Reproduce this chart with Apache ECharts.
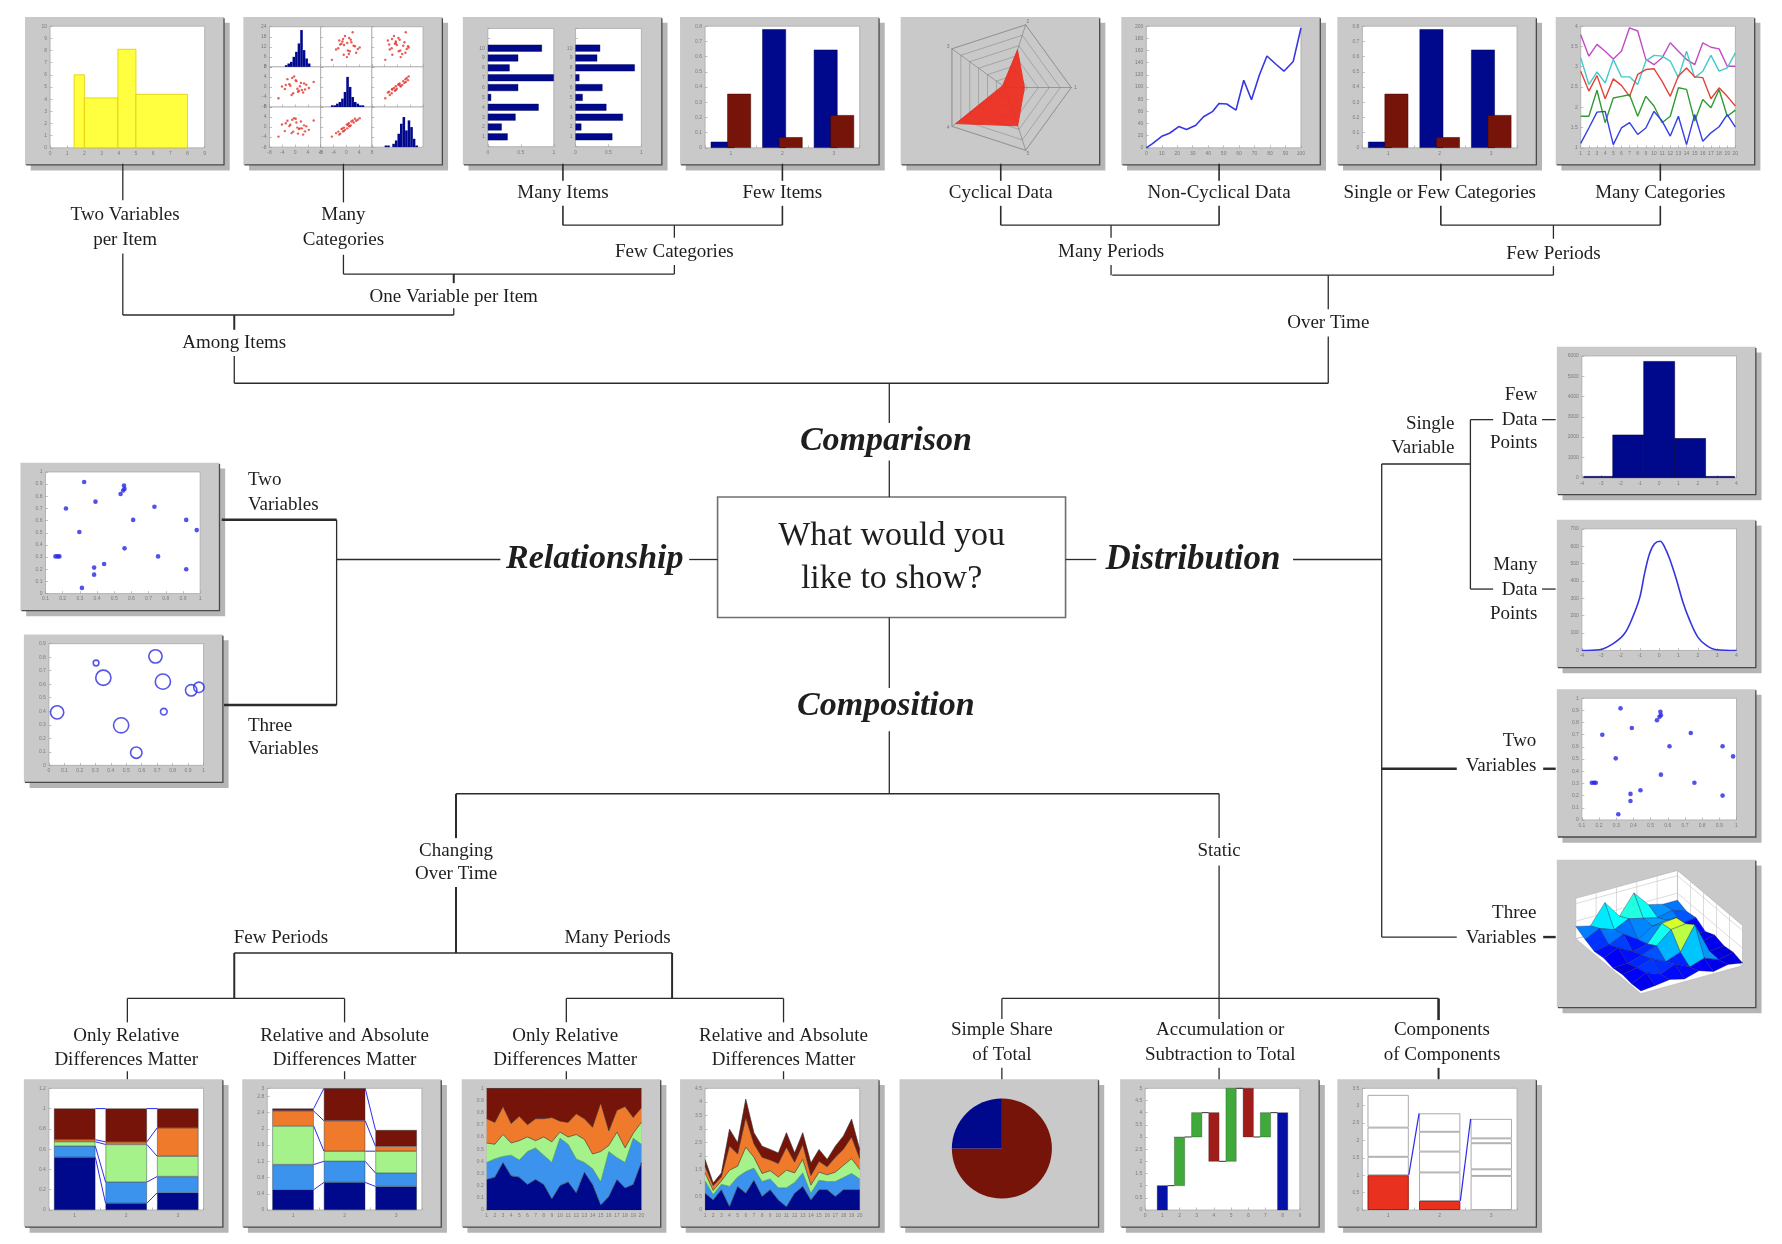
<!DOCTYPE html>
<html>
<head>
<meta charset="utf-8">
<script src="https://cdn.jsdelivr.net/npm/echarts/dist/echarts.min.js"></script>
<style>
  html, body { margin: 0; padding: 0; background: #fff; }
  #main { width: 1782px; height: 1244px; }
</style>
</head>
<body>
<div id="main"></div>
<script>
// ---------- data ----------
// Comparison / among items
var varWidthLeft = [1.4, 2.0, 3.95, 5.0];
var varWidthRight = [2.0, 3.95, 5.0, 8.0];
var varWidthHeight = [6.0, 4.1, 8.1, 4.4];

var matrixVarA = [-1.5, 2.1, 0.4, -3.2, 1.8, -0.6, 3.5, -2.4, 0.9, -4.1, 2.8, -1.1, 0.2, 4.3, -2.9, 1.2, -0.3, 2.5, -1.8, 0.7, 5.8, -5.2, 1.5, -0.9, 3.1];
var matrixVarB = [0.5, -1.2, 2.3, -0.8, 1.6, -2.5, 0.9, 3.1, -1.9, 0.2, 1.4, -3.2, 2.7, -0.4, 0.8, -1.5, 4.2, -2.2, 1.1, -0.7, 2.0, -4.5, 0.3, 3.6, -1.0];
var matrixVarC = [0.9, -0.5, 1.8, -1.6, 2.2, -1.8, 0.3, 2.5, -2.6, 1.0, 0.7, -2.4, 3.3, -1.1, 1.5, -0.8, 3.5, -3.0, 0.4, -0.2, 2.6, -3.8, -0.5, 2.9, -1.7];
var histBins = ['1','2','3','4','5','6','7','8','9','10','11','12','13','14','15','16','17','18','19','20'];
var matrixHistA = [0, 0, 0, 0, 0, 0, 1, 2, 3, 6, 9, 14, 22, 10, 5, 2, 0, 0, 0, 0];
var matrixHistB = [0, 0, 0, 0, 1, 1, 2, 3, 5, 9, 18, 12, 6, 3, 2, 1, 1, 0, 0, 0];
var matrixHistC = [0, 0, 0, 0, 0, 1, 1, 0, 2, 4, 8, 14, 18, 10, 16, 12, 5, 1, 0, 0];

var itemTicks = ['', '1', '2', '3', '4', '5', '6', '7', '8', '9', '10', '', ''];
var manyItemsLeft = [0.30, 0.21, 0.42, 0.77, 0.05, 0.46, 1.0, 0.33, 0.46, 0.82];
var manyItemsRight = [0.56, 0.09, 0.72, 0.47, 0.11, 0.41, 0.06, 0.9, 0.33, 0.375];

var fewCats = ['1', '2', '3'];
var fewBlue = [0.04, 0.78, 0.645];
var fewRed = [0.355, 0.07, 0.215];

// Comparison / over time
var radarAxes = ['1', '2', '3', '4', '5'];
var radarValues = [0.29, 0.6, 0.05, 0.93, 0.61];

var trendX = [0, 4, 10, 15, 21, 26, 32, 37, 43, 47, 52, 58, 63, 68, 73, 78, 84, 89, 95, 100];
var trendY = [0, 7, 19, 24, 35, 30, 37, 51, 60, 73, 72, 62, 111, 79, 119, 151, 137, 126, 142, 197];

var periodTicks = ['1','2','3','4','5','6','7','8','9','10','11','12','13','14','15','16','17','18','19','20'];
var linesMagenta = [3.79, 3.26, 3.55, 3.38, 3.19, 3.38, 3.96, 3.88, 3.18, 3.05, 3.22, 3.59, 3.38, 3.18, 3.05, 3.59, 3.48, 3.44, 3.01, 3.01];
var linesCyan = [3.22, 2.56, 2.87, 2.60, 3.18, 2.75, 2.75, 2.56, 3.14, 3.28, 3.26, 3.14, 2.73, 3.38, 2.73, 2.89, 3.28, 2.89, 2.97, 3.34];
var linesRed = [2.89, 2.40, 2.78, 2.21, 2.70, 2.54, 2.27, 2.81, 2.93, 2.95, 2.64, 2.27, 2.77, 2.97, 2.75, 2.73, 2.21, 2.48, 2.27, 2.03];
var linesGreen = [1.78, 1.78, 2.42, 1.62, 2.23, 2.27, 2.31, 1.78, 2.27, 2.03, 1.62, 1.78, 2.48, 2.44, 1.66, 2.19, 1.99, 2.44, 1.78, 1.93];
var linesBlue = [1.11, 1.49, 1.88, 1.90, 1.08, 1.49, 1.62, 1.33, 1.49, 1.90, 1.66, 1.29, 1.78, 1.08, 1.82, 1.16, 1.37, 1.52, 1.82, 1.51];

// Relationship
var scatterX = [0.325, 0.557, 0.56, 0.552, 0.537, 0.391, 0.219, 0.734, 0.61, 0.919, 0.98, 0.297, 0.56, 0.158, 0.171, 0.181, 0.755, 0.383, 0.441, 0.383, 0.919, 0.312];
var scatterY = [0.917, 0.889, 0.861, 0.847, 0.819, 0.756, 0.70, 0.714, 0.606, 0.606, 0.522, 0.506, 0.372, 0.306, 0.306, 0.306, 0.306, 0.214, 0.244, 0.156, 0.2, 0.047];
var bubbleX = [0.305, 0.352, 0.689, 0.737, 0.92, 0.97, 0.053, 0.743, 0.467, 0.565];
var bubbleY = [0.757, 0.648, 0.806, 0.619, 0.555, 0.577, 0.392, 0.397, 0.296, 0.094];
var bubbleSize = [3, 8, 7, 8, 6, 5.5, 7, 3.5, 8, 6];

// Distribution
var binEdges = [-3.9, -2.4, -0.8, 0.8, 2.4, 3.9];
var binCounts = [30, 2070, 5700, 1900, 30];
var densX = [-4, -3.1, -2.4, -1.8, -1.37, -1.0, -0.76, -0.5, -0.24, 0.05, 0.28, 0.54, 0.88, 1.23, 1.58, 2.0, 2.44, 2.96, 4];
var densY = [0, 4, 38, 96, 192, 307, 441, 557, 614, 628, 595, 528, 413, 278, 173, 77, 29, 4, 0];
var surfaceZ = [
  [0.8, 1.2, 1.8, 0.8, 2.0, 0.6, 1.5, 0.8],
  [0.6, 2.6, 1.0, 2.8, 0.8, 2.2, 0.6, 1.6],
  [1.0, 1.8, 3.2, 1.2, 2.8, 9.5, 0.8, 1.2],
  [0.6, 0.8, 2.0, 3.5, 7.0, 7.5, 1.0, 2.0],
  [1.2, 3.0, 0.8, 1.8, 6.5, 7.0, 1.0, 0.8],
  [0.8, 1.6, 3.5, 0.8, 3.5, 4.0, 2.0, 2.5],
  [2.0, 4.0, 2.5, 4.5, 3.5, 2.5, 3.5, 2.0],
  [3.5, 2.5, 8.0, 3.0, 8.5, 4.0, 3.0, 3.0]
];

// Composition
var b1Navy = [0.52, 0.066, 0.17];
var b1Blue = [0.11, 0.209, 0.16];
var b1Green = [0.043, 0.371, 0.20];
var b1Orange = [0.02, 0.026, 0.28];
var b1Red = [0.307, 0.328, 0.19];

var b2Navy = [0.5, 0.68, 0.58];
var b2Blue = [0.62, 0.52, 0.33];
var b2Green = [0.95, 0.25, 0.54];
var b2Orange = [0.37, 0.75, 0.12];
var b2Red = [0.06, 0.8, 0.4];

var b3Navy = [0.25, 0.27, 0.39, 0.28, 0.27, 0.21, 0.25, 0.21, 0.09, 0.20, 0.23, 0.14, 0.31, 0.21, 0.04, 0.11, 0.25, 0.18, 0.21, 0.39];
var b3Blue = [0.14, 0.15, 0.05, 0.17, 0.14, 0.27, 0.26, 0.24, 0.30, 0.39, 0.31, 0.28, 0.08, 0.13, 0.19, 0.37, 0.18, 0.21, 0.38, 0.15];
var b3Green = [0.16, 0.12, 0.18, 0.10, 0.16, 0.12, 0.06, 0.15, 0.17, 0.05, 0.06, 0.20, 0.19, 0.12, 0.25, 0.05, 0.21, 0.12, 0.04, 0.18];
var b3Orange = [0.20, 0.18, 0.23, 0.16, 0.20, 0.10, 0.18, 0.15, 0.20, 0.09, 0.12, 0.17, 0.17, 0.22, 0.40, 0.12, 0.18, 0.34, 0.13, 0.12];
var b3Red = [0.25, 0.28, 0.15, 0.29, 0.23, 0.30, 0.25, 0.25, 0.24, 0.27, 0.28, 0.21, 0.25, 0.32, 0.12, 0.35, 0.18, 0.15, 0.24, 0.16];

var b4Navy = [0.62, 0.37, 0.75, 0.12, 0.87, 0.62, 1.1, 0.5, 0.75, 0.37, 0.12, 0.62, 0.87, 0.37, 0.75, 0.75, 0.5, 0.75, 0.75, 0.75];
var b4Blue = [0.45, 0.2, 0.2, 0.75, 0.35, 0.8, 0.45, 0.55, 0.4, 0.45, 0.7, 0.4, 0.5, 0.25, 0.35, 0.3, 0.55, 0.45, 0.6, 0.4];
var b4Green = [0.3, 0.15, 0.12, 0.6, 0.4, 0.9, 0.4, 0.3, 0.3, 0.4, 0.65, 0.35, 0.5, 0.3, 0.3, 0.25, 0.35, 0.45, 0.55, 0.35];
var b4Orange = [0.25, 0.18, 0.15, 0.9, 0.45, 1.1, 0.5, 0.6, 0.4, 0.5, 0.85, 0.4, 0.55, 0.35, 0.4, 0.3, 0.55, 0.6, 0.8, 0.4];
var b4Red = [0.25, 0.1, 0.15, 0.62, 0.42, 0.68, 0.41, 0.41, 0.39, 0.39, 0.54, 0.34, 0.44, 0.47, 0.44, 0.27, 0.41, 0.49, 0.66, 0.34];

var pieNames = ['Rest', 'Share'];
var pieShares = [75, 25];

var wfFrom = [0, 1, 3, 4, 2, 5, 3, 4];
var wfTo = [1, 3, 4, 2, 5, 3, 4, 0];
var wfKind = ['total', 'up', 'up', 'down', 'up', 'down', 'up', 'total'];

var compSeg1 = [1.0, 0.26, 0.98];
var compSeg2 = [0.53, 0.82, 0.19];
var compSeg3 = [0.84, 0.60, 0.75];
var compSeg4 = [0.94, 0.57, 0.14];
var compSeg5 = [null, 0.53, 0.56];
var compFocus = [1, 1, 0];

// ---------- layout helpers ----------
var K = 1782 / 1567;
function k(v) { return v * K; }
var SERIF = '"Liberation Serif", "DejaVu Serif", serif';
var NAVY = '#00088c', LBLUE = '#3b93ee', LGREEN = '#a6f28a', ORANGE = '#ef7a2c', DRED = '#771409';

var graphics = [], grids = [], xAxes = [], yAxes = [], series = [], radars = [];

function addLine(x1, y1, x2, y2, w) {
  graphics.push({ type: 'line', z: 5, silent: true,
    shape: { x1: k(x1), y1: k(y1), x2: k(x2), y2: k(y2) },
    style: { stroke: '#2b2b2b', lineWidth: w || 1.3 } });
}
function addText(x, y, text, font, align) {
  graphics.push({ type: 'text', z: 5, silent: true, x: k(x), y: k(y),
    style: { text: text, fill: '#1e1e1e', font: font || ('19px ' + SERIF),
      align: align || 'center', verticalAlign: 'middle' } });
}
function addBox(b) {
  graphics.push({ type: 'rect', z: -3, silent: true,
    shape: { x: k(b[0] + 5), y: k(b[1] + 5), width: k(175), height: k(130) }, style: { fill: '#b5b5b5' } });
  graphics.push({ type: 'rect', z: -2, silent: true,
    shape: { x: k(b[0]), y: k(b[1]), width: k(175), height: k(130) }, style: { fill: '#c9c9c9' } });
  graphics.push({ type: 'polyline', z: -1, silent: true,
    shape: { points: [[k(b[0] + 175), k(b[1] + 1)], [k(b[0] + 175), k(b[1] + 130)], [k(b[0] + 1), k(b[1] + 130)]] },
    style: { stroke: '#4a4a4a', lineWidth: 1.3, fill: null } });
}
function axisBase(extra) {
  var a = {
    axisLine: { show: false, onZero: false },
    axisTick: { show: true, inside: true, length: 2.5, lineStyle: { color: '#999', width: 0.6 } },
    axisLabel: { show: true, fontSize: 5, color: '#7c7c7c', margin: 3, fontFamily: 'Liberation Sans',
      formatter: function (v) { return String(v); } },
    splitLine: { show: false }
  };
  for (var key in extra) a[key] = extra[key];
  return a;
}
function tiny(show) {
  return { show: show, fontSize: 5, color: '#7c7c7c', margin: 3, formatter: function (v) { return String(v); } };
}
function addGrid(r, xa, ya, bare) {
  var i = grids.length;
  grids.push({ left: k(r[0]), top: k(r[1]), width: k(r[2]), height: k(r[3]),
    containLabel: false, outerBoundsMode: 'none', show: !bare,
    backgroundColor: '#fff', borderColor: '#a8a8a8', borderWidth: 0.8 });
  xa.gridIndex = i; ya.gridIndex = i;
  xAxes.push(axisBase(xa)); yAxes.push(axisBase(ya));
  return i;
}
function plotIn(b) { return [b[0] + 22, b[1] + 8, 136, 107]; }

var topBoxes = [[22, 15], [214, 15], [407, 15], [598, 15], [792, 15], [986, 15], [1176, 15], [1368, 15]];
var leftBoxes = [[18, 407], [21, 558]];
var rightBoxes = [[1369, 305], [1369, 457], [1369, 606], [1369, 756]];
var bottomBoxes = [[21, 949], [213, 949], [406, 949], [598, 949], [791, 949], [985, 949], [1176, 949]];
topBoxes.concat(leftBoxes, rightBoxes, bottomBoxes).forEach(addBox);

// ---------- top row ----------
var g, b;
// variable width columns
g = addGrid(plotIn(topBoxes[0]), { type: 'value', min: 0, max: 9, interval: 1 }, { type: 'value', min: 0, max: 10, interval: 1 });
series.push({ type: 'custom', xAxisIndex: g, yAxisIndex: g, silent: true, encode: { x: [0, 2], y: 1 },
  data: varWidthLeft.map(function (l, i) { return [l, varWidthHeight[i], varWidthRight[i]]; }),
  renderItem: function (p, api) {
    var a = api.coord([api.value(0), 0]), c = api.coord([api.value(2), api.value(1)]);
    return { type: 'rect', shape: { x: a[0], y: c[1], width: c[0] - a[0], height: a[1] - c[1] },
      style: { fill: '#ffff40', stroke: '#e0cc00', lineWidth: 0.8 } };
  } });

// scatter matrix
b = topBoxes[1];
var mVars = [matrixVarA, matrixVarB, matrixVarC];
var mHists = [matrixHistA, matrixHistB, matrixHistC];
var mx = b[0] + 23, my = b[1] + 8.5, mw = 45, mh = 35.3;
for (var rr = 0; rr < 3; rr++) {
  for (var cc = 0; cc < 3; cc++) {
    var cell = [mx + cc * mw, my + rr * mh, mw, mh];
    if (rr === cc) {
      g = addGrid(cell, { type: 'category', data: histBins, axisTick: { show: false }, axisLabel: { show: false } },
        { type: 'value', min: 0, max: 24, interval: 6, axisLabel: tiny(cc === 0) });
      series.push({ type: 'bar', xAxisIndex: g, yAxisIndex: g, silent: true, data: mHists[rr], barCategoryGap: 0, itemStyle: { color: NAVY } });
    } else {
      g = addGrid(cell,
        { type: 'value', min: -8, max: 8, interval: 4, axisLabel: tiny(rr === 2) },
        { type: 'value', min: -8, max: 8, interval: 4, axisLabel: tiny(cc === 0) });
      var xs = mVars[cc], ys = mVars[rr];
      series.push({ type: 'scatter', xAxisIndex: g, yAxisIndex: g, silent: true, symbolSize: 2.4,
        itemStyle: { color: '#e2342c' }, data: xs.map(function (v, i) { return [v, ys[i]]; }) });
    }
  }
}

// many items
b = topBoxes[2];
[[manyItemsLeft, 22], [manyItemsRight, 99]].forEach(function (p) {
  var gi = addGrid([b[0] + p[1], b[1] + 10, 58, 104], { type: 'value', min: 0, max: 1, interval: 0.5 },
    { type: 'category', data: itemTicks, boundaryGap: false });
  series.push({ type: 'bar', xAxisIndex: gi, yAxisIndex: gi, silent: true, barWidth: '70%',
    data: [null].concat(p[0], [null, null]), itemStyle: { color: NAVY, borderColor: '#000055', borderWidth: 0.4 } });
});

// few items / single or few categories
[topBoxes[3], topBoxes[6]].forEach(function (bx) {
  var gi = addGrid(plotIn(bx), { type: 'category', data: fewCats }, { type: 'value', min: 0, max: 0.8, interval: 0.1 });
  series.push({ type: 'bar', xAxisIndex: gi, yAxisIndex: gi, silent: true, data: fewBlue, barGap: '-30%', barCategoryGap: '22%',
    itemStyle: { color: NAVY, borderColor: '#000050', borderWidth: 0.5 } });
  series.push({ type: 'bar', xAxisIndex: gi, yAxisIndex: gi, silent: true, data: fewRed, barGap: '-30%', barCategoryGap: '22%',
    itemStyle: { color: DRED, borderColor: '#400500', borderWidth: 0.5 } });
});

// radar
b = topBoxes[4];
radars.push({ center: [k(b[0] + 92), k(b[1] + 62)], radius: k(58), startAngle: 0, shape: 'polygon', splitNumber: 6,
  indicator: radarAxes.map(function (n) { return { name: n, max: 1 }; }),
  axisName: { color: '#7a7a7a', fontSize: 5 }, nameGap: 3,
  axisLine: { lineStyle: { color: '#777', width: 0.6 } },
  splitLine: { lineStyle: { color: '#8c8c8c', width: 0.6 } }, splitArea: { show: false } });
series.push({ type: 'radar', radarIndex: 0, silent: true, symbol: 'none', data: [{ value: radarValues }],
  lineStyle: { color: '#d8281a', width: 0.8 }, areaStyle: { color: '#ee2b1c', opacity: 0.92 } });

// non-cyclical line
g = addGrid(plotIn(topBoxes[5]), { type: 'value', min: 0, max: 100, interval: 10 }, { type: 'value', min: 0, max: 200, interval: 20 });
series.push({ type: 'line', xAxisIndex: g, yAxisIndex: g, silent: true, symbol: 'none',
  data: trendX.map(function (x, i) { return [x, trendY[i]]; }), lineStyle: { color: '#3636e4', width: 1.6 } });

// many categories
g = addGrid(plotIn(topBoxes[7]), { type: 'category', data: periodTicks, boundaryGap: false }, { type: 'value', min: 1, max: 4, interval: 0.5 });
[[linesMagenta, '#c24ac6'], [linesCyan, '#45c9c9'], [linesRed, '#e2433a'], [linesGreen, '#2f9c32'], [linesBlue, '#3440e4']].forEach(function (s) {
  series.push({ type: 'line', xAxisIndex: g, yAxisIndex: g, silent: true, symbol: 'none', data: s[0], lineStyle: { color: s[1], width: 1.4 } });
});

// ---------- relationship ----------
function scatterChart(bx) {
  var gi = addGrid(plotIn(bx), { type: 'value', min: 0.1, max: 1, interval: 0.1 }, { type: 'value', min: 0, max: 1, interval: 0.1 });
  series.push({ type: 'scatter', xAxisIndex: gi, yAxisIndex: gi, silent: true, symbolSize: 4.6, itemStyle: { color: '#2727e4' },
    data: scatterX.map(function (x, i) { return [x, scatterY[i]]; }) });
}
scatterChart(leftBoxes[0]);
g = addGrid(plotIn(leftBoxes[1]), { type: 'value', min: 0, max: 1, interval: 0.1 }, { type: 'value', min: 0, max: 0.9, interval: 0.1 });
series.push({ type: 'scatter', xAxisIndex: g, yAxisIndex: g, silent: true,
  data: bubbleX.map(function (x, i) { return [x, bubbleY[i], bubbleSize[i]]; }),
  symbolSize: function (v) { return v[2] * 1.9; },
  itemStyle: { color: 'rgba(0,0,0,0)', borderColor: '#2b2be2', borderWidth: 1.6 } });

// ---------- distribution ----------
g = addGrid(plotIn(rightBoxes[0]), { type: 'value', min: -4, max: 4, interval: 1 }, { type: 'value', min: 0, max: 6000, interval: 1000 });
series.push({ type: 'custom', xAxisIndex: g, yAxisIndex: g, silent: true, encode: { x: [0, 1], y: 2 },
  data: binCounts.map(function (c, i) { return [binEdges[i], binEdges[i + 1], c]; }),
  renderItem: function (p, api) {
    var a = api.coord([api.value(0), 0]), c = api.coord([api.value(1), api.value(2)]);
    return { type: 'rect', shape: { x: a[0], y: c[1] - 0.6, width: c[0] - a[0], height: a[1] - c[1] + 0.6 },
      style: { fill: NAVY, stroke: '#000048', lineWidth: 0.6 } };
  } });

g = addGrid(plotIn(rightBoxes[1]), { type: 'value', min: -4, max: 4, interval: 1 }, { type: 'value', min: 0, max: 700, interval: 100 });
series.push({ type: 'line', xAxisIndex: g, yAxisIndex: g, silent: true, symbol: 'none', smooth: 0.35,
  data: densX.map(function (x, i) { return [x, densY[i]]; }), lineStyle: { color: '#3434e2', width: 1.6 } });

scatterChart(rightBoxes[2]);

// 3D surface, oblique projection into box-relative units
var b3d = rightBoxes[3];
g = addGrid([b3d[0], b3d[1], 175, 130], { type: 'value', min: 0, max: 175, show: false },
  { type: 'value', min: 0, max: 130, inverse: true, show: false }, true);
function proj(i, j, z) { return [73.9 + i * 8.94 - j * 5.72, 117.8 - i * 2.46 - j * 4.84 - z * 3.08]; }
var JET = [[0, [0, 0, 143]], [0.125, [0, 0, 255]], [0.375, [0, 255, 255]], [0.625, [255, 255, 0]], [0.875, [255, 0, 0]], [1, [128, 0, 0]]];
function jet(t) {
  t = Math.max(0, Math.min(1, t));
  for (var n = 1; n < JET.length; n++) {
    if (t <= JET[n][0]) {
      var a = JET[n - 1], c = JET[n], f = (t - a[0]) / (c[0] - a[0]);
      return 'rgb(' + [0, 1, 2].map(function (q) { return Math.round(a[1][q] + (c[1][q] - a[1][q]) * f); }).join(',') + ')';
    }
  }
  return 'rgb(128,0,0)';
}
series.push({ type: 'custom', xAxisIndex: g, yAxisIndex: g, silent: true, data: [[0, 0]],
  renderItem: function (p, api) {
    function pt(i, j, z) { var q = proj(i, j, z); return api.coord([q[0], q[1]]); }
    function ln(a, c) { return { type: 'line', shape: { x1: a[0], y1: a[1], x2: c[0], y2: c[1] }, style: { stroke: '#c4c4c4', lineWidth: 0.6 } }; }
    var top = 11.5;
    var faces = [
      [[0, 0, 0], [10, 0, 0], [10, 10, 0], [0, 10, 0]],
      [[0, 10, 0], [10, 10, 0], [10, 10, top], [0, 10, top]],
      [[10, 0, 0], [10, 10, 0], [10, 10, top], [10, 0, top]]
    ];
    var ch = faces.map(function (f) {
      return { type: 'polygon', shape: { points: f.map(function (q) { return pt(q[0], q[1], q[2]); }) },
        style: { fill: '#fff', stroke: '#b0b0b0', lineWidth: 0.6 } };
    });
    for (var t = 2; t < 10; t += 2) {
      ch.push(ln(pt(t, 10, 0), pt(t, 10, top)));
      ch.push(ln(pt(10, t, 0), pt(10, t, top)));
    }
    [5, 10].forEach(function (zz) {
      ch.push(ln(pt(0, 10, zz), pt(10, 10, zz)));
      ch.push(ln(pt(10, 10, zz), pt(10, 0, zz)));
    });
    return { type: 'group', children: ch };
  } });
var nz = surfaceZ.length, step = 10 / (nz - 1), cells = [];
for (var cj = 0; cj < nz - 1; cj++) for (var ci = 0; ci < nz - 1; ci++) cells.push([ci, cj]);
cells.sort(function (a, c) { return (2.46 * c[0] + 4.84 * c[1]) - (2.46 * a[0] + 4.84 * a[1]); });
series.push({ type: 'custom', xAxisIndex: g, yAxisIndex: g, silent: true, data: cells,
  renderItem: function (p, api) {
    var i = api.value(0), j = api.value(1);
    var corners = [[i, j], [i + 1, j], [i + 1, j + 1], [i, j + 1]];
    var sum = 0;
    var pts = corners.map(function (q) {
      var z = surfaceZ[q[1]][q[0]]; sum += z;
      var pr = proj(q[0] * step, q[1] * step, z);
      return api.coord([pr[0], pr[1]]);
    });
    return { type: 'polygon', shape: { points: pts }, style: { fill: jet(sum / 4 / 12), stroke: '#1a1a50', lineWidth: 0.35 } };
  } });

// ---------- composition ----------
function connectors(gi, stacks, half) {
  var tops = stacks[0].map(function (_, bi) {
    var s = 0;
    return stacks.map(function (arr) { s += (arr[bi] || 0); return s; });
  });
  var data = [];
  for (var bi = 0; bi < tops.length - 1; bi++) for (var si = 0; si < stacks.length; si++) data.push([bi, tops[bi][si], tops[bi + 1][si]]);
  series.push({ type: 'custom', xAxisIndex: gi, yAxisIndex: gi, silent: true, z: 3, data: data, encode: { x: 0, y: [1, 2] },
    renderItem: function (p, api) {
      var i = api.value(0), band = api.size([1, 0])[0];
      var a = api.coord([i, api.value(1)]), c = api.coord([i + 1, api.value(2)]);
      return { type: 'line', shape: { x1: a[0] + band * half, y1: a[1], x2: c[0] - band * half, y2: c[1] },
        style: { stroke: '#2b2bf0', lineWidth: 1 } };
    } });
}
function stackedBars(bx, stacks, ymax, name) {
  var gi = addGrid(plotIn(bx), { type: 'category', data: fewCats }, { type: 'value', min: 0, max: ymax, interval: 0.2 * Math.ceil(ymax / 1.5) });
  var cols = [NAVY, LBLUE, LGREEN, ORANGE, DRED];
  stacks.forEach(function (arr, si) {
    series.push({ type: 'bar', xAxisIndex: gi, yAxisIndex: gi, silent: true, stack: name, data: arr, barCategoryGap: '20%',
      itemStyle: { color: cols[si], borderColor: '#1c2a3a', borderWidth: 0.4 } });
  });
  connectors(gi, stacks, 0.4);
}
stackedBars(bottomBoxes[0], [b1Navy, b1Blue, b1Green, b1Orange, b1Red], 1.2, 'b1');
stackedBars(bottomBoxes[1], [b2Navy, b2Blue, b2Green, b2Orange, b2Red], 3, 'b2');

function stackedArea(bx, stacks, ymax, iv, name) {
  var gi = addGrid(plotIn(bx), { type: 'category', data: periodTicks, boundaryGap: false }, { type: 'value', min: 0, max: ymax, interval: iv });
  var cols = [NAVY, LBLUE, LGREEN, ORANGE, DRED];
  stacks.forEach(function (arr, si) {
    series.push({ type: 'line', xAxisIndex: gi, yAxisIndex: gi, silent: true, stack: name, symbol: 'none', data: arr,
      lineStyle: { color: si === 1 ? '#2e8a3c' : '#2a2a2a', width: 0.6 }, areaStyle: { color: cols[si], opacity: 1 }, itemStyle: { color: cols[si] } });
  });
}
stackedArea(bottomBoxes[2], [b3Navy, b3Blue, b3Green, b3Orange, b3Red], 1, 0.1, 'b3');
stackedArea(bottomBoxes[3], [b4Navy, b4Blue, b4Green, b4Orange, b4Red], 4.5, 0.5, 'b4');

// pie
b = bottomBoxes[4];
series.push({ type: 'pie', silent: true, center: [k(b[0] + 90), k(b[1] + 61)], radius: k(44), startAngle: 90, clockwise: true,
  label: { show: false }, labelLine: { show: false },
  data: pieNames.map(function (n, i) { return { name: n, value: pieShares[i], itemStyle: { color: i === 0 ? DRED : NAVY, borderWidth: 0 } }; }) });

// waterfall
g = addGrid(plotIn(bottomBoxes[5]), { type: 'value', min: 0, max: 9, interval: 1 }, { type: 'value', min: 0, max: 5, interval: 0.5 });
var wfColor = { total: '#0612a6', up: '#3fa93a', down: '#a11d19' };
series.push({ type: 'custom', xAxisIndex: g, yAxisIndex: g, silent: true, encode: { x: 0, y: [1, 2] },
  data: wfFrom.map(function (f, i) { return [i + 1, f, wfTo[i], i]; }),
  renderItem: function (p, api) {
    var x = api.value(0), f = api.value(1), t = api.value(2), idx = api.value(3);
    var kind = wfKind[idx];
    var lo = kind === 'total' ? 0 : Math.min(f, t), hi = Math.max(f, t);
    var a = api.coord([x - 0.3, hi]), c = api.coord([x + 0.3, lo]);
    var ch = [{ type: 'rect', shape: { x: a[0], y: a[1], width: c[0] - a[0], height: c[1] - a[1] },
      style: { fill: wfColor[kind], stroke: '#222', lineWidth: 0.3 } }];
    if (idx < wfFrom.length - 1) {
      var s = api.coord([x + 0.3, t]), e = api.coord([x + 0.7, t]);
      ch.push({ type: 'line', shape: { x1: s[0], y1: s[1], x2: e[0], y2: e[1] }, style: { stroke: '#333', lineWidth: 1 } });
    }
    return { type: 'group', children: ch };
  } });

// components of components
g = addGrid(plotIn(bottomBoxes[6]), { type: 'category', data: fewCats }, { type: 'value', min: 0, max: 3.5, interval: 0.5 });
[compSeg1, compSeg2, compSeg3, compSeg4, compSeg5].forEach(function (arr, si) {
  series.push({ type: 'bar', xAxisIndex: g, yAxisIndex: g, silent: true, stack: 'cc', barCategoryGap: '20%',
    data: arr.map(function (v, bi) {
      var hot = si === 0 && compFocus[bi];
      return { value: v, itemStyle: { color: hot ? '#e8321f' : '#ffffff', borderColor: hot ? '#8a1a10' : '#a0a0a0', borderWidth: 0.9 } };
    }) });
});
(function () {
  var totals = compSeg1.map(function (_, bi) {
    return [compSeg1, compSeg2, compSeg3, compSeg4, compSeg5].reduce(function (s, arr) { return s + (arr[bi] || 0); }, 0);
  });
  var gi = g;
  series.push({ type: 'custom', xAxisIndex: gi, yAxisIndex: gi, silent: true, z: 3, encode: { x: 0, y: [1, 2] },
    data: [0, 1].map(function (bi) { return [bi, compSeg1[bi], totals[bi + 1]]; }),
    renderItem: function (p, api) {
      var i = api.value(0), band = api.size([1, 0])[0];
      var a = api.coord([i, api.value(1)]), c = api.coord([i + 1, api.value(2)]);
      return { type: 'line', shape: { x1: a[0] + band * 0.4, y1: a[1], x2: c[0] - band * 0.4, y2: c[1] },
        style: { stroke: '#2b2bf0', lineWidth: 1.2 } };
    } });
})();

// ---------- decision tree ----------
// top
addLine(108, 144, 108, 176); addLine(108, 223, 108, 277);
addLine(302, 144, 302, 178); addLine(302, 224, 302, 241);
[495, 688, 880, 1072, 1267, 1460].forEach(function (c) { addLine(c, 144, c, 159, 1.6); addLine(c, 181, c, 198, 1.6); });
addLine(495, 198, 688, 198); addLine(880, 198, 1072, 198); addLine(1267, 198, 1460, 198);
addLine(593, 198, 593, 209); addLine(593, 233, 593, 241);
addLine(977, 198, 977, 209); addLine(977, 233, 977, 242);
addLine(1366, 198, 1366, 210); addLine(1366, 234, 1366, 242);
addLine(302, 241, 593, 241);
addLine(399, 241, 399, 249, 2); addLine(399, 271, 399, 277);
addLine(978, 242, 1366, 242);
addLine(1168, 242, 1168, 272); addLine(1168, 296, 1168, 337);
addLine(108, 277, 399, 277);
addLine(206, 277, 206, 290, 2); addLine(206, 313, 206, 337);
addLine(206, 337, 1168, 337);
addLine(782, 337, 782, 372); addLine(782, 405, 782, 437);

// centre
graphics.push({ type: 'rect', z: 4, silent: true, shape: { x: k(631), y: k(437), width: k(306), height: k(106) },
  style: { fill: '#fff', stroke: '#707070', lineWidth: 1.6 } });
addLine(296, 492, 440, 492); addLine(606, 492, 631, 492);
addLine(937, 492, 964, 492); addLine(1137, 492, 1215, 492);
addLine(782, 543, 782, 605); addLine(782, 643, 782, 698);

// left
addLine(296, 457, 296, 620);
addLine(195, 457, 296, 457, 2.6); addLine(197, 620, 296, 620, 2.6);

// right
addLine(1215, 408, 1215, 824); addLine(1215, 408, 1293, 408, 1.6); addLine(1293, 369, 1293, 518);
addLine(1293, 369, 1313, 369); addLine(1356, 369, 1368, 369);
addLine(1293, 518, 1313, 518); addLine(1356, 518, 1368, 518);
addLine(1215, 676, 1281, 676, 2.4); addLine(1357, 676, 1368, 676, 2.4);
addLine(1215, 824, 1281, 824); addLine(1357, 824, 1368, 824, 2.4);

// bottom
addLine(401, 698, 1072, 698);
addLine(401, 698, 401, 737, 2); addLine(401, 780, 401, 838, 2);
addLine(206, 838, 591, 838, 1.6);
addLine(206, 838, 206, 878, 2); addLine(591, 838, 591, 878, 2);
addLine(112, 878, 303, 878); addLine(498, 878, 689, 878);
[112, 303, 498, 689].forEach(function (c) { addLine(c, 878, c, 899); addLine(c, 942, c, 949); });
addLine(1072, 698, 1072, 737); addLine(1072, 761, 1072, 878);
addLine(881, 878, 1265, 878);
[881, 1072].forEach(function (c) { addLine(c, 878, c, 896); addLine(c, 939, c, 949); });
addLine(1265, 878, 1265, 897, 2.6); addLine(1265, 939, 1265, 949, 2);

// ---------- labels ----------
var HEAD = 'italic bold 34px ' + SERIF;
addText(110, 189, 'Two Variables'); addText(110, 211, 'per Item');
addText(302, 189, 'Many'); addText(302, 211, 'Categories');
addText(495, 170, 'Many Items'); addText(688, 170, 'Few Items');
addText(880, 170, 'Cyclical Data'); addText(1072, 170, 'Non-Cyclical Data');
addText(1266, 170, 'Single or Few Categories'); addText(1460, 170, 'Many Categories');
addText(593, 222, 'Few Categories'); addText(977, 222, 'Many Periods'); addText(1366, 223, 'Few Periods');
addText(399, 261, 'One Variable per Item');
addText(1168, 284, 'Over Time');
addText(206, 302, 'Among Items');

addText(779, 388, 'Comparison', HEAD);
addText(523, 492, 'Relationship', HEAD);
addText(1049, 492, 'Distribution', 'italic bold 35px ' + SERIF);
addText(779, 621, 'Composition', HEAD);
addText(784, 471, 'What would you', '34px ' + SERIF);
addText(784, 509, 'like to show?', '34px ' + SERIF);

addText(218, 422, 'Two', null, 'left'); addText(218, 444, 'Variables', null, 'left');
addText(218, 638, 'Three', null, 'left'); addText(218, 659, 'Variables', null, 'left');

addText(1279, 373, 'Single', null, 'right'); addText(1279, 394, 'Variable', null, 'right');
addText(1352, 347, 'Few', null, 'right'); addText(1352, 369, 'Data', null, 'right'); addText(1352, 390, 'Points', null, 'right');
addText(1352, 497, 'Many', null, 'right'); addText(1352, 519, 'Data', null, 'right'); addText(1352, 540, 'Points', null, 'right');
addText(1351, 652, 'Two', null, 'right'); addText(1351, 674, 'Variables', null, 'right');
addText(1351, 803, 'Three', null, 'right'); addText(1351, 825, 'Variables', null, 'right');

addText(401, 748, 'Changing'); addText(401, 769, 'Over Time');
addText(1072, 748, 'Static');
addText(247, 825, 'Few Periods'); addText(543, 825, 'Many Periods');
addText(111, 911, 'Only Relative'); addText(111, 932, 'Differences Matter');
addText(303, 911, 'Relative and Absolute'); addText(303, 932, 'Differences Matter');
addText(497, 911, 'Only Relative'); addText(497, 932, 'Differences Matter');
addText(689, 911, 'Relative and Absolute'); addText(689, 932, 'Differences Matter');
addText(881, 906, 'Simple Share'); addText(881, 928, 'of Total');
addText(1073, 906, 'Accumulation or'); addText(1073, 928, 'Subtraction to Total');
addText(1268, 906, 'Components'); addText(1268, 928, 'of Components');

var chart = echarts.init(document.getElementById('main'));
chart.setOption({
  animation: false,
  backgroundColor: '#ffffff',
  graphic: { elements: graphics },
  grid: grids,
  xAxis: xAxes,
  yAxis: yAxes,
  radar: radars,
  series: series
});
</script>
</body>
</html>
